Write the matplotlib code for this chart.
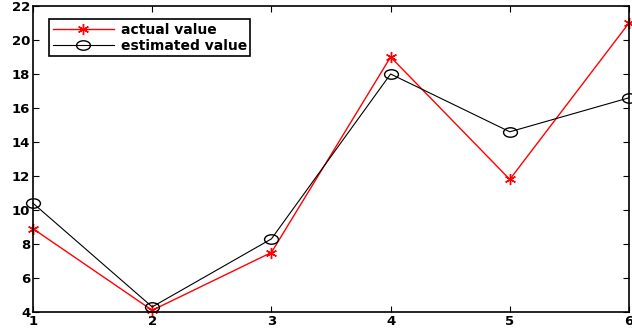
import numpy as np
import matplotlib.pyplot as plt
from matplotlib.path import Path
from matplotlib.transforms import Affine2D

plt.rcParams['font.family'] = ['DejaVu Sans']

x = [1, 2, 3, 4, 5, 6]
actual = [8.9, 4.1, 7.5, 19.0, 11.8, 21.0]
estimated = [10.4, 4.3, 8.3, 18.0, 14.6, 16.6]

# squashed circle, like the stretched matlab export
ellipse = Affine2D().scale(1.0, 0.68).transform_path(Path.unit_circle())

fig = plt.figure(figsize=(6.32, 3.34), dpi=100)
ax = fig.add_axes([33/632, 1 - 312/334, 596/632, 306/334])

ax.plot(x, actual, color='red', lw=1, marker=(6, 2, 0), ms=8, mew=1,
        label='actual value', clip_on=False)
ax.plot(x, estimated, color='black', lw=0.8, marker=ellipse, ms=10, mfc='none',
        mew=1, label='estimated value', clip_on=False)

ax.set_xlim(1, 6)
ax.set_ylim(4, 22)
ax.set_xticks(x)
ax.set_yticks(np.arange(4, 23, 2))
ax.tick_params(direction='in', top=True, right=True, length=4, width=0.8,
               labelsize=9.5, pad=2)
for lab in ax.get_xticklabels() + ax.get_yticklabels():
    lab.set_fontweight('bold')
for s in ax.spines.values():
    s.set_linewidth(1.2)

leg = ax.legend(loc='upper left', bbox_to_anchor=(0.027, 0.957), fancybox=False,
                edgecolor='black', framealpha=1, handlelength=4.4,
                prop={'weight': 'bold', 'size': 10}, borderpad=0.25,
                borderaxespad=0, labelspacing=0.15, handletextpad=0.5)
leg.get_frame().set_linewidth(1.2)

fig.savefig('out.png', dpi=100)
